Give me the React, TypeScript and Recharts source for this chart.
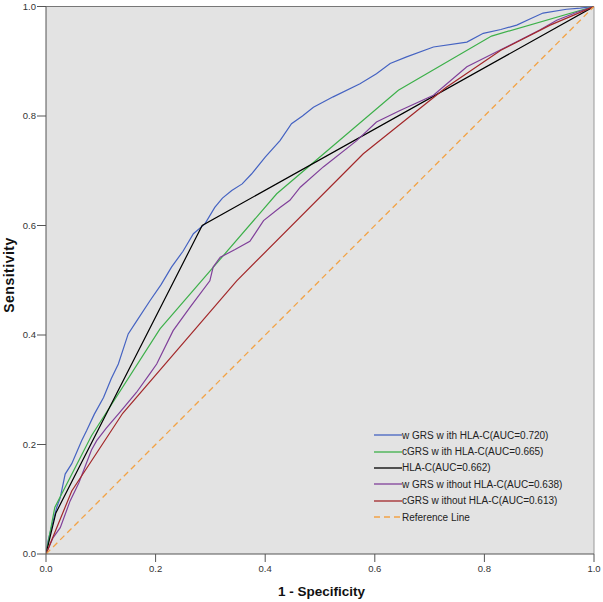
import { CartesianGrid, Line, LineChart, ReferenceLine, XAxis, YAxis } from "recharts";

const tickValues = [0, 0.2, 0.4, 0.6, 0.8, 1];

const wgrsWithX = [0, 0.004, 0.007, 0.0195, 0.026, 0.035, 0.047, 0.065, 0.074, 0.088, 0.105, 0.119, 0.132, 0.15, 0.165, 0.19, 0.21, 0.229, 0.25, 0.269, 0.29, 0.308, 0.322, 0.339, 0.358, 0.375, 0.4, 0.427, 0.448, 0.468, 0.488, 0.524, 0.573, 0.603, 0.628, 0.658, 0.707, 0.768, 0.798, 0.83, 0.859, 0.885, 0.907, 0.95, 0.975, 1];
const wgrsWithY = [0, 0.025, 0.037, 0.085, 0.103, 0.146, 0.165, 0.207, 0.225, 0.255, 0.286, 0.32, 0.347, 0.402, 0.425, 0.463, 0.492, 0.524, 0.553, 0.585, 0.603, 0.633, 0.65, 0.664, 0.676, 0.694, 0.725, 0.755, 0.786, 0.8, 0.816, 0.835, 0.859, 0.877, 0.896, 0.908, 0.926, 0.935, 0.951, 0.958, 0.966, 0.978, 0.988, 0.995, 0.997, 1];

const cgrsWithX = [0, 0.016, 0.083, 0.208, 0.421, 0.643, 0.813, 1];
const cgrsWithY = [0, 0.085, 0.216, 0.411, 0.658, 0.847, 0.946, 1];

const hlaX = [0, 0.018, 0.285, 1];
const hlaY = [0, 0.075, 0.6, 1];

const wgrsWithoutX = [0, 0.013, 0.026, 0.044, 0.06, 0.083, 0.0925, 0.11, 0.135, 0.165, 0.19, 0.202, 0.232, 0.263, 0.299, 0.305, 0.318, 0.345, 0.372, 0.397, 0.427, 0.445, 0.464, 0.506, 0.567, 0.603, 0.646, 0.707, 0.768, 0.828, 0.901, 0.932, 0.97, 1];
const wgrsWithoutY = [0, 0.03, 0.048, 0.097, 0.13, 0.19, 0.207, 0.23, 0.259, 0.295, 0.33, 0.347, 0.408, 0.451, 0.499, 0.524, 0.542, 0.556, 0.571, 0.609, 0.633, 0.646, 0.67, 0.707, 0.755, 0.789, 0.81, 0.838, 0.89, 0.92, 0.957, 0.975, 0.99, 1];

const cgrsWithoutX = [0, 0.022, 0.047, 0.14, 0.348, 0.579, 0.73, 0.83, 0.92, 1];
const cgrsWithoutY = [0, 0.054, 0.115, 0.257, 0.499, 0.731, 0.852, 0.92, 0.966, 1];

const referenceX = [0, 1];
const referenceY = [0, 1];

const seriesNames = [
  "w GRS w ith HLA-C(AUC=0.720)",
  "cGRS w ith HLA-C(AUC=0.665)",
  "HLA-C(AUC=0.662)",
  "w GRS w ithout HLA-C(AUC=0.638)",
  "cGRS w ithout HLA-C(AUC=0.613)",
  "Reference Line",
];

const seriesColors = ["#4563c2", "#3db04a", "#000000", "#80409a", "#a3282a", "#f2a347"];

type RocPoint = { x: number; y: number };

function toPoints(xs: number[], ys: number[]): RocPoint[] {
  return xs.map((x, i) => ({ x, y: ys[i] }));
}

const series = [
  toPoints(wgrsWithX, wgrsWithY),
  toPoints(cgrsWithX, cgrsWithY),
  toPoints(hlaX, hlaY),
  toPoints(wgrsWithoutX, wgrsWithoutY),
  toPoints(cgrsWithoutX, cgrsWithoutY),
  toPoints(referenceX, referenceY),
];

const font = "'Liberation Sans', Arial, sans-serif";

function RocLegend() {
  return (
    <div style={{ position: "absolute", left: 374, top: 427, fontFamily: font, fontSize: 10, color: "#222" }}>
      {seriesNames.map((name, i) => (
        <div key={name} style={{ display: "flex", alignItems: "center", height: 16.4 }}>
          <svg width={28} height={4} style={{ display: "block" }}>
            <line
              x1={0}
              y1={2}
              x2={28}
              y2={2}
              stroke={seriesColors[i]}
              strokeWidth={1.3}
              strokeDasharray={i === 5 ? "6 4" : undefined}
            />
          </svg>
          <span style={{ whiteSpace: "pre" }}>{name}</span>
        </div>
      ))}
    </div>
  );
}

export default function App() {
  return (
    <div style={{ position: "absolute", left: 0, top: 0, width: 603, height: 602, background: "#fff" }}>
      <LineChart width={603} height={602} margin={{ top: 6.5, right: 9, left: 6, bottom: 18 }}>
        <CartesianGrid horizontal={false} vertical={false} fill="#e3e3e3" />
        <XAxis
          type="number"
          dataKey="x"
          domain={[0, 1]}
          ticks={tickValues}
          tickFormatter={(v: number) => v.toFixed(1)}
          height={30}
          tickSize={8}
          tickMargin={3}
          stroke="#555"
          tick={{ fill: "#333", fontSize: 9.5, fontFamily: font }}
          allowDataOverflow
        />
        <YAxis
          type="number"
          dataKey="y"
          domain={[0, 1]}
          ticks={tickValues}
          tickFormatter={(v: number) => v.toFixed(1)}
          width={40}
          tickSize={9}
          tickMargin={1}
          stroke="#555"
          tick={{ fill: "#333", fontSize: 9.5, fontFamily: font }}
          allowDataOverflow
        />
        <ReferenceLine y={1} stroke="#777" />
        <ReferenceLine x={1} stroke="#999" />
        {series.map((points, i) => (
          <Line
            key={seriesNames[i]}
            data={points}
            dataKey="y"
            type="linear"
            stroke={seriesColors[i]}
            strokeWidth={i === 5 ? 1.3 : 1.2}
            strokeDasharray={i === 5 ? "6 4" : undefined}
            dot={false}
            activeDot={false}
            isAnimationActive={false}
          />
        ))}
      </LineChart>
      <RocLegend />
      <div
        style={{
          position: "absolute",
          left: 0,
          width: 643,
          top: 584,
          textAlign: "center",
          fontFamily: font,
          fontWeight: "bold",
          fontSize: 13.5,
          color: "#111",
        }}
      >
        1 - Specificity
      </div>
      <div
        style={{
          position: "absolute",
          left: 8.5,
          top: 275,
          transform: "translate(-50%, -50%) rotate(-90deg)",
          fontFamily: font,
          fontWeight: "bold",
          fontSize: 14,
          letterSpacing: 0.5,
          color: "#111",
          whiteSpace: "nowrap",
        }}
      >
        Sensitivity
      </div>
    </div>
  );
}
